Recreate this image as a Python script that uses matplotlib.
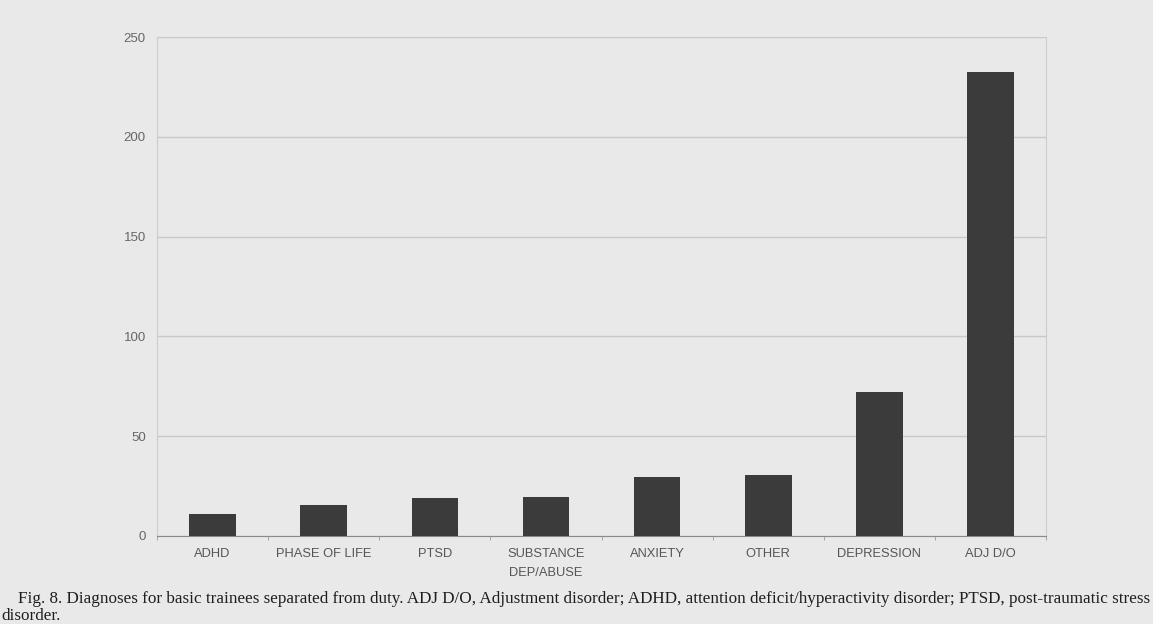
import numpy as np
import matplotlib.pyplot as plt

# 数据
categories = ['ADHD', 'PHASE OF LIFE', 'PTSD', 'SUBSTANCE\nDEP/ABUSE', 'ANXIETY',
              'OTHER', 'DEPRESSION', 'ADJ D/O']
counts = [11, 15.4, 18.7, 19.4, 29.6, 30.3, 72.2, 232.7]
y_ticks = [0, 50, 100, 150, 200, 250]

bg = '#e9e9e9'
fig = plt.figure(figsize=(11.53, 6.24), dpi=100, facecolor=bg)
ax = fig.add_axes([0.1362, 0.1415, 0.771, 0.7989])
ax.set_facecolor(bg)

x = np.arange(len(categories))
ax.bar(x, counts, width=0.42, color='#3b3b3b', zorder=3)

ax.set_xlim(-0.5, len(categories) - 0.5)
ax.set_ylim(0, 250)
ax.set_yticks(y_ticks)
ax.set_yticklabels([str(t) for t in y_ticks], fontsize=9.5, color='#666666',
                   family='Liberation Sans')
ax.set_xticks(x)
ax.set_xticklabels(categories, fontsize=9.3, color='#555555', family='Liberation Sans',
                   linespacing=1.7)
ax.tick_params(axis='y', length=0, pad=8)
ax.tick_params(axis='x', length=0, pad=9)

# 类别分隔刻度
ax.set_xticks(np.arange(-0.5, len(categories)), minor=True)
ax.tick_params(axis='x', which='minor', length=3, color='#999999')

ax.yaxis.grid(True, color='#c9c9c9', linewidth=1, zorder=0)
for s in ['left', 'right', 'top']:
    ax.spines[s].set_color('#cccccc')
ax.spines['top'].set_visible(False)
ax.spines['bottom'].set_color('#8a8a8a')

# 图注
fig.text(0.016, 0.034, 'Fig. 8. Diagnoses for basic trainees separated from duty. ADJ D/O, '
         'Adjustment disorder; ADHD, attention deficit/hyperactivity disorder; PTSD, '
         'post-traumatic stress', fontsize=12.3, family='Liberation Serif', color='#1e1e1e')
fig.text(0.001, 0.006, 'disorder.', fontsize=12.3, family='Liberation Serif', color='#1e1e1e')

plt.savefig('out.png', dpi=100, facecolor=bg)
